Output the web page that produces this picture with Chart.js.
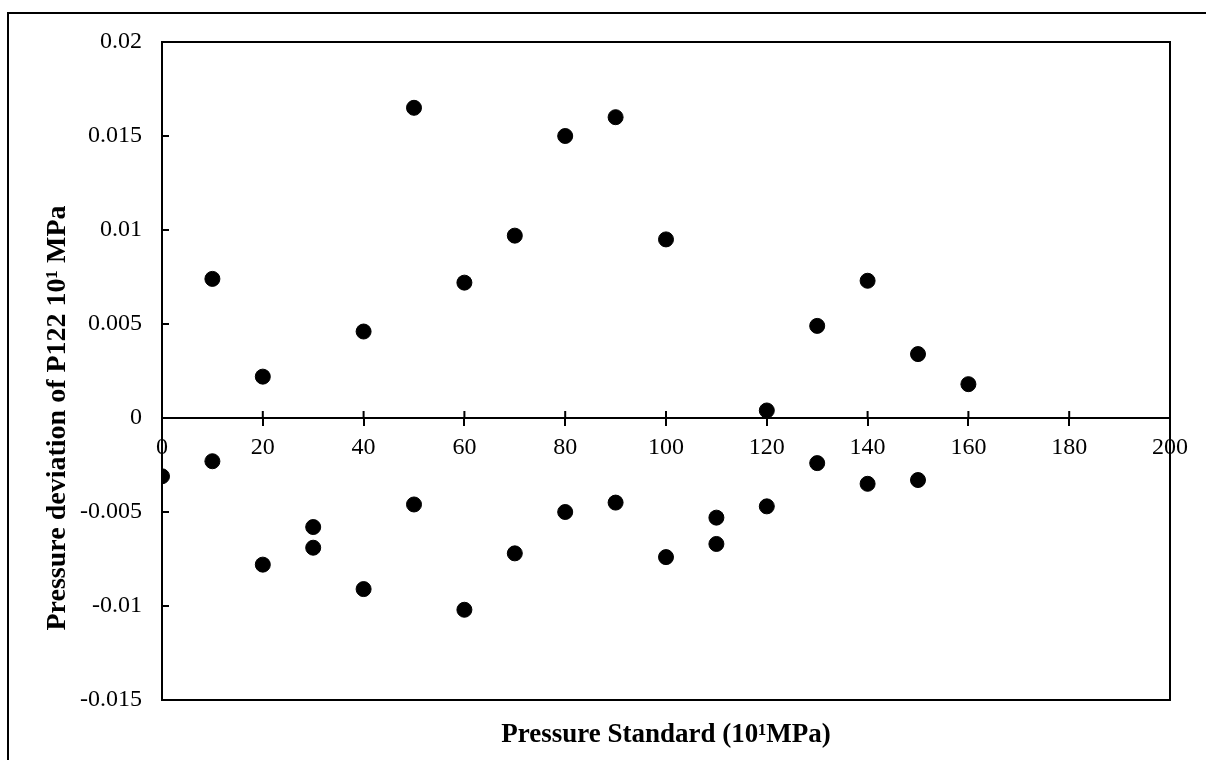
<!DOCTYPE html>
<html>
<head>
<meta charset="utf-8">
<script src="https://cdn.jsdelivr.net/npm/chart.js@4"></script>
<style>
  body { margin: 0; background: #fff; }
  #wrap { position: relative; width: 1206px; height: 760px; }
</style>
</head>
<body>
<div id="wrap"><canvas id="chart"></canvas></div>
<script>
// pressure standard (10^1 MPa) and deviation of P122
const standard = [0, 10, 10, 20, 20, 30, 30, 40, 40, 50, 50, 60, 60, 70, 70, 80, 80, 90, 90,
  100, 100, 110, 110, 120, 120, 130, 130, 140, 140, 150, 150, 160];
const deviation = [-0.0031, 0.0074, -0.0023, 0.0022, -0.0078, -0.0058, -0.0069, 0.0046, -0.0091,
  0.0165, -0.0046, 0.0072, -0.0102, 0.0097, -0.0072, 0.0150, -0.0050, 0.0160, -0.0045,
  0.0095, -0.0074, -0.0053, -0.0067, 0.0004, -0.0047, 0.0049, -0.0024, 0.0073, -0.0035,
  0.0034, -0.0033, 0.0018];

const xTitle = 'Pressure Standard (10¹MPa)';
const yTitle = 'Pressure deviation of P122 10¹ MPa';

const FONT = '"Liberation Serif", "Times New Roman", serif';

// frame, box round the plot, extra tick halves and the two axis titles
const decor = {
  id: 'decor',
  beforeDraw(chart) {
    const ctx = chart.ctx;
    ctx.save();
    ctx.fillStyle = '#fff';
    ctx.fillRect(0, 0, chart.width, chart.height);
    ctx.strokeStyle = '#000';
    ctx.lineWidth = 2;
    ctx.strokeRect(8, 13, chart.width + 50, chart.height + 50);
    ctx.restore();
  },
  afterDraw(chart) {
    const { ctx, chartArea: a, scales: { x, y } } = chart;
    ctx.save();
    ctx.strokeStyle = '#000';
    ctx.lineWidth = 2;
    ctx.strokeRect(a.left, a.top, a.right - a.left, a.bottom - a.top);

    const zero = Math.round(y.getPixelForValue(0));
    ctx.beginPath();
    x.ticks.forEach(t => {
      const px = x.getPixelForValue(t.value);
      ctx.moveTo(px, zero);
      ctx.lineTo(px, zero - 7);
    });
    y.ticks.forEach(t => {
      const py = y.getPixelForValue(t.value);
      ctx.moveTo(a.left, py);
      ctx.lineTo(a.left + 7, py);
    });
    ctx.stroke();

    ctx.fillStyle = '#000';
    ctx.textAlign = 'center';
    ctx.textBaseline = 'middle';
    ctx.font = 'bold 27px ' + FONT;
    ctx.fillText(xTitle, (a.left + a.right) / 2, 735);

    ctx.font = 'bold 28px ' + FONT;
    ctx.translate(58, zero);
    ctx.rotate(-Math.PI / 2);
    ctx.fillText(yTitle, 0, 0);
    ctx.restore();
  }
};

new Chart(document.getElementById('chart'), {
  type: 'scatter',
  data: {
    datasets: [{
      data: standard.map((v, i) => ({ x: v, y: deviation[i] })),
      backgroundColor: '#000',
      borderColor: '#000',
      pointRadius: 7.5,
      pointHoverRadius: 7.5
    }]
  },
  options: {
    responsive: true,
    maintainAspectRatio: false,
    animation: false,
    layout: { padding: { top: 42, right: 36, bottom: 60, left: 0 } },
    plugins: {
      legend: { display: false },
      tooltip: { enabled: false }
    },
    scales: {
      x: {
        type: 'linear',
        position: { y: 0 },
        min: 0,
        max: 200,
        afterFit: s => { s.height = 0; },
        grid: { drawOnChartArea: false, tickLength: 7, color: '#000', lineWidth: 2 },
        border: { color: '#000', width: 2 },
        ticks: {
          stepSize: 20,
          maxRotation: 0,
          padding: 8,
          color: '#000',
          font: { family: FONT, size: 24 }
        }
      },
      y: {
        position: 'left',
        min: -0.015,
        max: 0.02,
        afterFit: s => { s.width = 162; },
        grid: { drawOnChartArea: false, drawTicks: false },
        border: { color: '#000', width: 2 },
        ticks: {
          stepSize: 0.005,
          padding: 20,
          color: '#000',
          font: { family: FONT, size: 24 },
          callback: v => String(Number(v.toFixed(3)))
        }
      }
    }
  },
  plugins: [decor]
});
</script>
</body>
</html>
